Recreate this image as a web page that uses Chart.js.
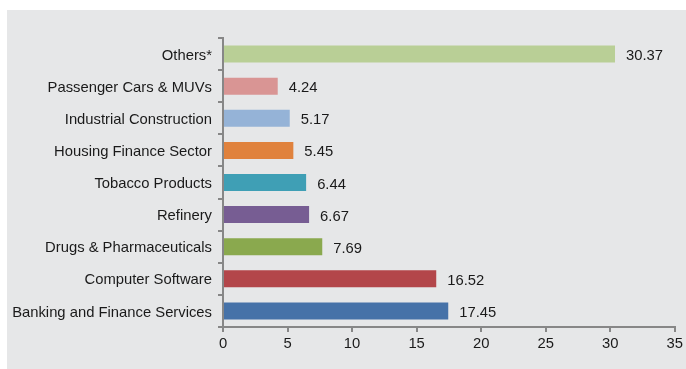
<!DOCTYPE html>
<html>
<head>
<meta charset="utf-8">
<script src="https://cdn.jsdelivr.net/npm/chart.js@4/dist/chart.umd.min.js"></script>
<style>
  html, body { margin: 0; padding: 0; background: #fff; }
  #wrap { position: absolute; left: 7px; top: 10px; width: 679px; height: 359px; background: #e6e7e8; }
</style>
</head>
<body>
<div id="wrap"><canvas id="sectorChart"></canvas></div>
<script>
// sectors, top to bottom
const sectors = [
    'Others*',
    'Passenger Cars & MUVs',
    'Industrial Construction',
    'Housing Finance Sector',
    'Tobacco Products',
    'Refinery',
    'Drugs & Pharmaceuticals',
    'Computer Software',
    'Banking and Finance Services'
];
const shares = [30.37, 4.24, 5.17, 5.45, 6.44, 6.67, 7.69, 16.52, 17.45];
const barColors = ['#b9cf96', '#d99594', '#95b3d7', '#e0823d', '#3f9fb5', '#775d93', '#8aa94e', '#b3464a', '#4672a8'];
const xTicks = [0, 5, 10, 15, 20, 25, 30, 35];

const fontFamily = '"Liberation Sans", Arial, sans-serif';
const axisGray = '#878787';

// write the value next to each bar
const valueLabels = {
    id: 'valueLabels',
    afterDatasetsDraw(chart) {
        const ctx = chart.ctx;
        const meta = chart.getDatasetMeta(0);
        ctx.save();
        ctx.font = '14.8px ' + fontFamily;
        ctx.fillStyle = '#1a1a1a';
        ctx.textAlign = 'left';
        ctx.textBaseline = 'middle';
        meta.data.forEach((bar, i) => {
            ctx.fillText(shares[i].toFixed(2), bar.x + 11, bar.y + 2);
        });
        ctx.restore();
    }
};

new Chart(document.getElementById('sectorChart'), {
    type: 'bar',
    data: {
        labels: sectors,
        datasets: [{
            data: shares,
            backgroundColor: barColors,
            borderWidth: 0,
            barPercentage: 0.53,
            categoryPercentage: 1
        }]
    },
    options: {
        indexAxis: 'y',
        responsive: true,
        maintainAspectRatio: false,
        animation: false,
        layout: { padding: { top: 28, right: 9, bottom: 0, left: 0 } },
        plugins: {
            legend: { display: false },
            tooltip: { enabled: false }
        },
        scales: {
            x: {
                min: 0,
                max: 35,
                afterBuildTicks: scale => { scale.ticks = xTicks.map(v => ({ value: v })); },
                afterFit: scale => { scale.height = 42; },
                border: { color: axisGray, width: 2 },
                grid: { drawOnChartArea: false, color: axisGray, lineWidth: 2, tickLength: 5 },
                ticks: { color: '#1a1a1a', padding: 3, font: { family: fontFamily, size: 14.8 } }
            },
            y: {
                afterFit: scale => { scale.width = 216; },
                border: { color: axisGray, width: 2 },
                grid: { drawOnChartArea: false, offset: true, color: axisGray, lineWidth: 2, tickLength: 5 },
                ticks: { color: '#1a1a1a', padding: 6, labelOffset: 1.5, font: { family: fontFamily, size: 14.8 } }
            }
        }
    },
    plugins: [valueLabels]
});
</script>
</body>
</html>
